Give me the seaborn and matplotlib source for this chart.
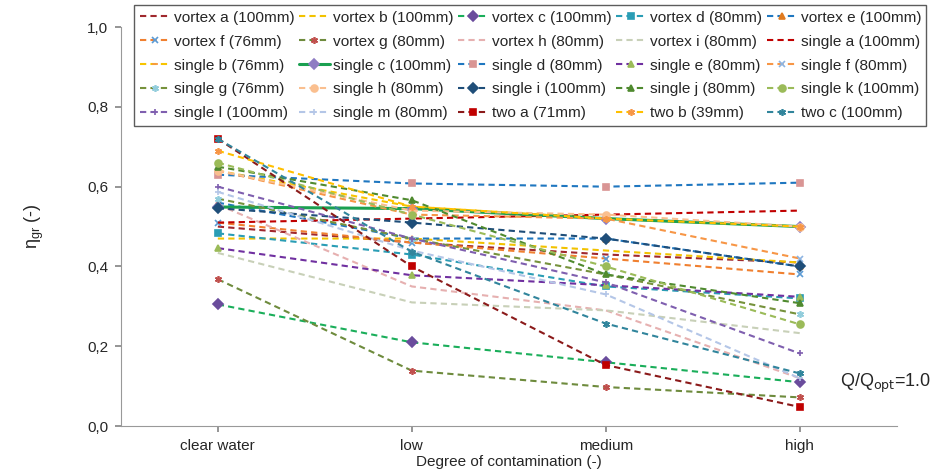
import pandas as pd
import matplotlib.pyplot as plt
import seaborn as sns
from matplotlib.ticker import FuncFormatter

# categories on the x axis
levels = ["clear water", "low", "medium", "high"]

# efficiency values per runner
vortex_a = [0.50, 0.46, 0.43, 0.41]
vortex_b = [0.47, 0.47, 0.44, 0.41]
vortex_c = [0.305, 0.21, 0.16, 0.11]
vortex_d = [0.483, 0.43, 0.35, 0.32]
vortex_e = [0.56, 0.47, 0.47, 0.40]
vortex_f = [0.51, 0.46, 0.42, 0.38]
vortex_g = [0.368, 0.139, 0.098, 0.072]
vortex_h = [0.555, 0.35, 0.29, 0.12]
vortex_i = [0.434, 0.31, 0.29, 0.233]
single_a = [0.51, 0.52, 0.53, 0.54]
single_b = [0.64, 0.55, 0.52, 0.50]
single_c = [0.549, 0.545, 0.52, 0.50]
single_d = [0.63, 0.608, 0.60, 0.61]
single_e = [0.446, 0.378, 0.353, 0.324]
single_f = [0.64, 0.53, 0.52, 0.42]
single_g = [0.57, 0.47, 0.38, 0.28]
single_h = [0.64, 0.54, 0.53, 0.50]
single_i = [0.546, 0.51, 0.47, 0.40]
single_j = [0.65, 0.566, 0.38, 0.308]
single_k = [0.66, 0.53, 0.40, 0.255]
single_l = [0.60, 0.47, 0.36, 0.182]
single_m = [0.587, 0.44, 0.33, 0.12]
two_a = [0.72, 0.40, 0.153, 0.048]
two_b = [0.69, 0.55, 0.52, 0.50]
two_c = [0.72, 0.437, 0.257, 0.132]

# name, values, line colour, marker, marker colour, linestyle
series = [
    ("vortex a (100mm)", vortex_a, "#A0282D", None, None, "--"),
    ("vortex b (100mm)", vortex_b, "#F2C200", None, None, "--"),
    ("vortex c (100mm)", vortex_c, "#1AAE5A", "D", "#6A4C9C", "--"),
    ("vortex d (80mm)", vortex_d, "#2A9DB5", "s", "#2A9DB5", "--"),
    ("vortex e (100mm)", vortex_e, "#1F77C0", "^", "#E07B20", "--"),
    ("vortex f (76mm)", vortex_f, "#F08030", "x", "#5B9BD5", "--"),
    ("vortex g (80mm)", vortex_g, "#6E8B3D", (6, 2, 0), "#C0504D", "--"),
    ("vortex h (80mm)", vortex_h, "#E6B0B0", None, None, "--"),
    ("vortex i (80mm)", vortex_i, "#C8D0B8", None, None, "--"),
    ("single a (100mm)", single_a, "#C00000", None, None, "--"),
    ("single b (76mm)", single_b, "#F7C400", "_", "#F79646", "--"),
    ("single c (100mm)", single_c, "#1AA050", "D", "#8E7CC3", "-"),
    ("single d (80mm)", single_d, "#1F77C0", "s", "#D99594", "--"),
    ("single e (80mm)", single_e, "#7030A0", "^", "#9BBB59", "--"),
    ("single f (80mm)", single_f, "#F79646", "x", "#8DB4E2", "--"),
    ("single g (76mm)", single_g, "#76923C", (6, 2, 0), "#92CDDC", "--"),
    ("single h (80mm)", single_h, "#FABF8F", "o", "#FABF8F", "--"),
    ("single i (100mm)", single_i, "#1F4E79", "D", "#1F4E79", "--"),
    ("single j (80mm)", single_j, "#4F8A2F", "^", "#4F8A2F", "--"),
    ("single k (100mm)", single_k, "#9BBB59", "o", "#9BBB59", "--"),
    ("single l (100mm)", single_l, "#7F5FAF", "+", "#7F5FAF", "--"),
    ("single m (80mm)", single_m, "#B4C6E7", "+", "#B4C6E7", "--"),
    ("two a (71mm)", two_a, "#8B1A1A", "s", "#C00000", "--"),
    ("two b (39mm)", two_b, "#FFC000", (6, 2, 0), "#F79646", "--"),
    ("two c (100mm)", two_c, "#31859C", (6, 2, 0), "#31859C", "--"),
]

sns.set_theme(style="white")
plt.rcParams['font.family'] = ['Liberation Sans', 'DejaVu Sans']

fig = plt.figure(figsize=(9.44, 4.74), dpi=100)
ax = fig.add_axes([0.128, 0.101, 0.822, 0.842])

for name, vals, col, mk, mcol, ls in series:
    df = pd.DataFrame({"level": levels, "eta": vals})
    lw = 2.2 if ls == "-" else 1.5
    sns.lineplot(data=df, x="level", y="eta", ax=ax, color=col, linestyle=ls,
                 linewidth=lw, marker=mk, markersize=5,
                 markerfacecolor=mcol, markeredgecolor=mcol, markeredgewidth=1.2,
                 label=name, sort=False)
    if ls == "--":
        ax.lines[-1].set_dashes((3, 2))

ax.set_ylim(0, 1.0)
ax.set_xlim(-0.5, 3.5)
ax.set_yticks([0, 0.2, 0.4, 0.6, 0.8, 1.0])
ax.yaxis.set_major_formatter(FuncFormatter(lambda v, p: f"{v:.1f}".replace(".", ",")))
ax.tick_params(axis="both", labelsize=11, length=4, color="#888888", direction="out",
               left=True, bottom=True, pad=5)
for s in ["top", "right"]:
    ax.spines[s].set_visible(False)
for s in ["left", "bottom"]:
    ax.spines[s].set_color("#999999")
    ax.spines[s].set_linewidth(0.8)

ax.set_xlabel("Degree of contamination (-)", fontsize=11, labelpad=2)
ax.set_ylabel(r"$\mathregular{\eta_{gr}}$ (-)", fontsize=13, labelpad=30)

# legend filled row by row, five columns
ax.get_legend().remove()
handles, labels = ax.get_legend_handles_labels()
order = [r * 5 + c for c in range(5) for r in range(5)]
leg = fig.legend([handles[i] for i in order], [labels[i] for i in order],
                 ncol=5, loc="upper left", bbox_to_anchor=(0.139, 0.995),
                 fontsize=11.1, frameon=True, handlelength=2.0, handletextpad=0.2,
                 columnspacing=0.3, labelspacing=0.64, borderpad=0.35,
                 borderaxespad=0.2, fancybox=False)
leg.get_frame().set_edgecolor("#333333")
leg.get_frame().set_linewidth(1.0)

fig.text(0.89, 0.192, r"Q/Q$_{\mathrm{opt}}$=1.0", fontsize=13, va="center")

fig.savefig("out.png", dpi=100)
